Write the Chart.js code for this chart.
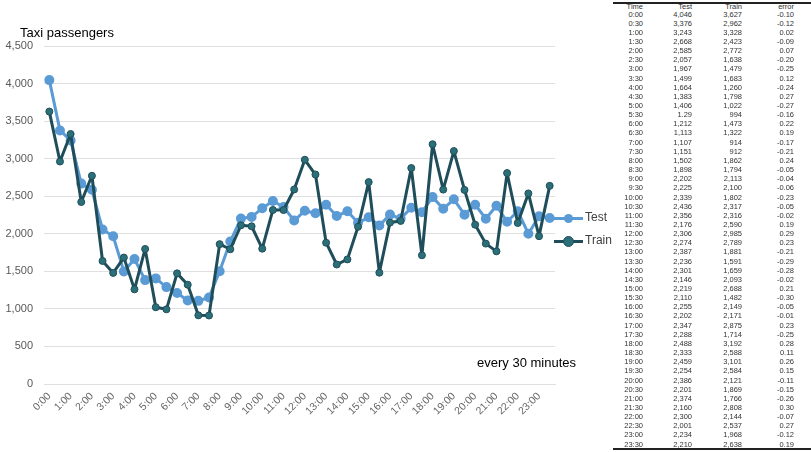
<!DOCTYPE html>
<html>
<head>
<meta charset="utf-8">
<script src="https://cdn.jsdelivr.net/npm/chart.js@4"></script>
<style>
  body { margin: 0; background: #fff; font-family: "Liberation Sans", Arial, sans-serif; }
  #wrap { position: relative; width: 811px; height: 452px; overflow: hidden; }
  #box { position: absolute; left: 0; top: 0; width: 610px; height: 452px; }
  .lbl { position: absolute; color: #000; font-size: 13px; white-space: nowrap; }
  .leg { position: absolute; font-size: 12px; color: #404040; white-space: nowrap; }
  .leg i { position: absolute; left: 0; top: 7px; width: 29px; height: 3px; }
  .leg b { position: absolute; left: 10px; top: 4px; width: 9px; height: 9px; border-radius: 50%; }
  .leg span { position: absolute; left: 31px; top: 0; }
  #tbl { position: absolute; left: 613px; top: 0; width: 198px; height: 452px; font-size: 7.5px; color: #333; }
  .row { position: absolute; left: 0; width: 198px; height: 9px; line-height: 9px; }
  .row div { position: absolute; text-align: right; }
  .rule { position: absolute; left: 0; width: 198px; height: 2px; background: #222; }
</style>
</head>
<body>
<div id="wrap">
  <div id="box"><canvas id="c" width="610" height="452"></canvas></div>
  <div class="lbl" style="left:20px;top:25px;">Taxi passengers</div>
  <div class="lbl" style="left:477px;top:355px;">every 30 minutes</div>
  <div class="leg" style="left:554px;top:210px;"><i style="background:#5b9bd5"></i><b style="background:#5b9bd5"></b><span>Test</span></div>
  <div class="leg" style="left:554px;top:233px;"><i style="background:#1f4e5a"></i><b style="background:#2b6f78;border:1px solid #1f4e5a;left:9px;top:3px"></b><span>Train</span></div>
  <div id="tbl"></div>
</div>
<script>
const times = [];
for (let h = 0; h < 24; h++) { times.push(h + ":00"); times.push(h + ":30"); }

const test = [4046, 3376, 3243, 2668, 2585, 2057, 1967, 1499, 1664, 1383, 1406, 1290,
              1212, 1113, 1107, 1151, 1502, 1898, 2202, 2225, 2339, 2436, 2356, 2176,
              2306, 2274, 2387, 2236, 2301, 2146, 2219, 2110, 2255, 2202, 2347, 2288,
              2488, 2333, 2459, 2254, 2386, 2201, 2374, 2160, 2300, 2001, 2234, 2210];

const train = [3627, 2962, 3328, 2423, 2772, 1638, 1479, 1683, 1260, 1798, 1022, 994,
               1473, 1322, 914, 912, 1862, 1794, 2113, 2100, 1802, 2317, 2316, 2590,
               2985, 2789, 1881, 1591, 1659, 2093, 2688, 1482, 2149, 2171, 2875, 1714,
               3192, 2588, 3101, 2584, 2121, 1869, 1766, 2808, 2144, 2537, 1968, 2638];

const errors = [-0.10, -0.12, 0.02, -0.09, 0.07, -0.20, -0.25, 0.12, -0.24, 0.27, -0.27, -0.16,
                0.22, 0.19, -0.17, -0.21, 0.24, -0.05, -0.04, -0.06, -0.23, -0.05, -0.02, 0.19,
                0.29, 0.23, -0.21, -0.29, -0.28, -0.02, 0.21, -0.30, -0.05, -0.01, 0.23, -0.25,
                0.28, 0.11, 0.26, 0.15, -0.11, -0.15, -0.26, 0.30, -0.07, 0.27, -0.12, 0.19];

// the sheet shows 5:30 test as "1.29"
const testText = {11: "1.29"};

// table on the right
const tbl = document.getElementById("tbl");
function addRow(y, cells) {
  const r = document.createElement("div");
  r.className = "row"; r.style.top = y + "px";
  const rights = [30, 79, 129, 181];
  cells.forEach((t, k) => {
    const d = document.createElement("div");
    d.textContent = t;
    d.style.right = (198 - rights[k]) + "px";
    r.appendChild(d);
  });
  tbl.appendChild(r);
}
const top0 = document.createElement("div"); top0.className = "rule"; top0.style.top = "2px"; tbl.appendChild(top0);
addRow(1.5, ["Time", "Test", "Train", "error"]);
times.forEach((t, i) => {
  addRow(9.5 + i * 9.15, [t, testText[i] || test[i].toLocaleString("en-US"),
    train[i].toLocaleString("en-US"), errors[i].toFixed(2)]);
});
const bot = document.createElement("div"); bot.className = "rule"; bot.style.top = "448px"; tbl.appendChild(bot);

new Chart(document.getElementById("c"), {
  type: "line",
  data: {
    labels: times,
    datasets: [
      { label: "Test", data: test, order: 1, borderColor: "#5b9bd5", backgroundColor: "#5b9bd5",
        borderWidth: 3, borderJoinStyle: "round", pointRadius: 3.5,
        pointBackgroundColor: "#5b9bd5", pointBorderColor: "#5b9bd5", tension: 0 },
      { label: "Train", data: train, order: 0, borderColor: "#1f4e5a", backgroundColor: "#2b6f78",
        borderWidth: 3, borderJoinStyle: "round", pointRadius: 3.5,
        pointBackgroundColor: "#2b6f78", pointBorderColor: "#1f4e5a", pointBorderWidth: 1, tension: 0 }
    ]
  },
  options: {
    responsive: false,
    animation: false,
    layout: { padding: { top: 46, right: 55, left: 0, bottom: 0 } },
    plugins: { legend: { display: false }, tooltip: { enabled: false } },
    scales: {
      x: {
        offset: true,
        grid: { display: false, drawTicks: false },
        border: { color: "#e0e0e0" },
        afterFit: s => { s.height = 68; },
        ticks: {
          autoSkip: false, maxRotation: 45, minRotation: 45, padding: 6,
          color: "#666", font: { size: 10.5, family: "Liberation Sans" },
          callback: function (v, i) { return i % 2 === 0 ? this.getLabelForValue(v) : ""; }
        }
      },
      y: {
        min: 0, max: 4500,
        grid: { color: "#e0e0e0", drawTicks: false },
        border: { display: false },
        afterFit: s => { s.width = 44; },
        ticks: {
          stepSize: 500, padding: 11, color: "#595959",
          font: { size: 11, family: "Liberation Sans" },
          callback: v => v.toLocaleString("en-US")
        }
      }
    }
  }
});
</script>
</body>
</html>
